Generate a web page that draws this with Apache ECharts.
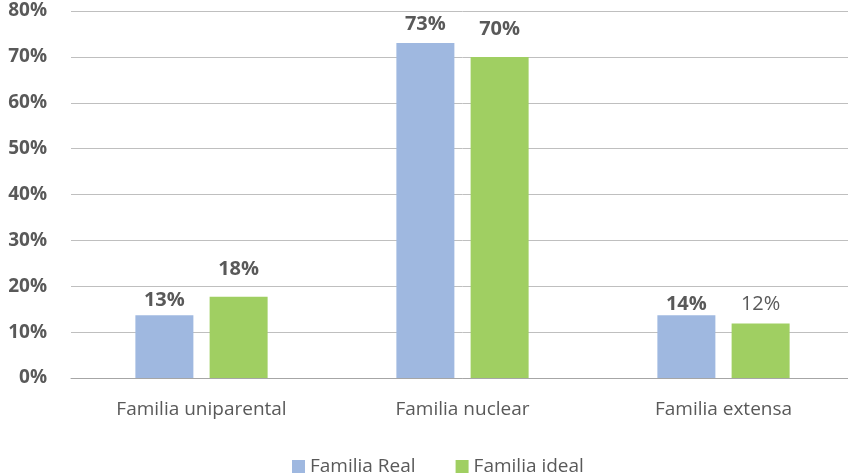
<!DOCTYPE html>
<html>
<head>
<meta charset="utf-8">
<script src="https://cdn.jsdelivr.net/npm/echarts@6/dist/echarts.min.js"></script>
<style>html,body{margin:0;padding:0;background:#fff;overflow:hidden;width:848px;height:475px}#c{width:856px;height:475px}</style>
</head>
<body>
<div id="c"></div>
<script>
var categories = ["Familia uniparental", "Familia nuclear", "Familia extensa"];
var realValues = [13.7, 73.0, 13.7];
var idealValues = [17.7, 70.0, 11.9];
var realLabels = ["13%", "73%", "14%"];
var idealLabels = ["18%", "70%", "12%"];
var yTicks = [0, 10, 20, 30, 40, 50, 60, 70, 80];

var realDist = [5, 9, 1];
var idealDist = [18, 18, 9];
var idealWeight = ["bold", "bold", "normal"];

var font = "Open Sans";
var chart = echarts.init(document.getElementById('c'), null, {renderer: 'canvas'});

function buildData(vals, labels, dists, weights) {
  return vals.map(function (v, i) {
    return {
      value: v,
      label: {
        show: true,
        position: 'top',
        distance: dists[i],
        formatter: labels[i],
        fontWeight: weights ? weights[i] : 'bold'
      }
    };
  });
}

chart.setOption({
  animation: false,
  textStyle: {fontFamily: font},
  grid: {left: 71, right: 2, top: 11, bottom: 97, containLabel: false},
  legend: {
    top: 452,
    left: 287,
    itemWidth: 13,
    itemHeight: 13,
    itemGap: 40,
    icon: 'rect',
    textStyle: {fontSize: 19, color: '#595959', fontFamily: font},
    data: ['Familia Real', 'Familia ideal']
  },
  xAxis: {
    type: 'category',
    data: categories,
    axisLine: {show: true, lineStyle: {color: '#a6a6a6', width: 1}},
    axisTick: {show: false},
    axisLabel: {fontSize: 19, color: '#595959', margin: 22, fontFamily: font}
  },
  yAxis: {
    type: 'value',
    min: yTicks[0],
    max: yTicks[yTicks.length - 1],
    interval: 10,
    axisLine: {show: false},
    axisTick: {show: false},
    splitLine: {lineStyle: {color: '#bfbfbf', width: 1}},
    axisLabel: {
      fontSize: 19, fontWeight: 'bold', color: '#595959', margin: 24, fontFamily: font,
      formatter: function (v) { return v + '%'; }
    }
  },
  series: [
    {
      name: 'Familia Real',
      type: 'bar',
      barWidth: 58,
      barGap: '28%',
      itemStyle: {color: '#9fb8e0'},
      label: {show: true, color: '#595959', fontSize: 20, fontFamily: font},
      data: buildData(realValues, realLabels, realDist, null)
    },
    {
      name: 'Familia ideal',
      type: 'bar',
      barWidth: 58,
      itemStyle: {color: '#a0cf62'},
      label: {show: true, color: '#595959', fontSize: 20, fontFamily: font},
      data: buildData(idealValues, idealLabels, idealDist, idealWeight)
    }
  ]
});
</script>
</body>
</html>
